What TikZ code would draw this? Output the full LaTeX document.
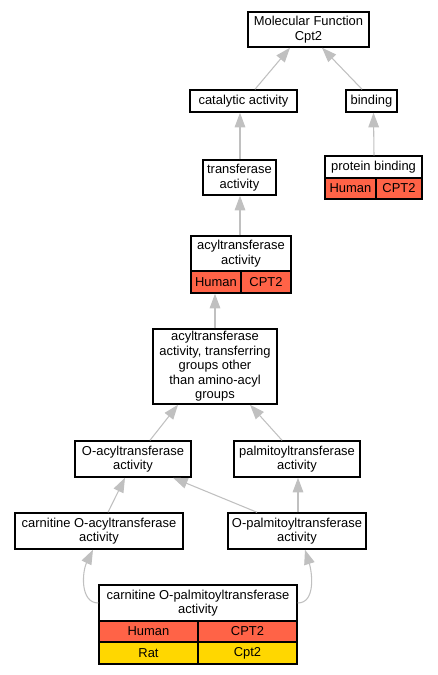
\documentclass[tikz,border=0pt]{standalone}
\usepackage{fontspec}
\setmainfont{Liberation Sans}
\usetikzlibrary{arrows.meta,calc}
\definecolor{tomatoc}{HTML}{FF6347}
\definecolor{goldc}{HTML}{FFD700}
\definecolor{edgec}{HTML}{C0C0C0}
\begin{document}
\begin{tikzpicture}[x=0.75pt,y=-0.75pt,
  box/.style={draw=black, line width=1.1pt, fill=white, inner sep=0pt, align=center,
    font=\fontsize{9.7}{10.9}\selectfont},
  sz/.style 2 args={minimum width=#1*0.75pt, minimum height=#2*0.75pt},
  human/.style={box, fill=tomatoc},
  rat/.style={box, fill=goldc},
  edge/.style={draw=edgec, line width=0.8pt, -{Triangle[length=11pt,width=8pt]}}]
\useasboundingbox (0,0) rectangle (437,675);

% nodes
\node[box, sz={121}{35}] (mf) at (308.5,29.5) {Molecular Function\\Cpt2};
\node[box, sz={107}{22}] (cat) at (243.5,101) {catalytic activity};
\node[box, sz={51}{22}] (bind) at (371.5,101) {binding};
\node[box, sz={97}{22}] (pb) at (373.5,167) {protein binding};
\node[human, sz={51}{21}] (pbH) at (350.5,188.5) {Human};
\node[human, sz={46}{21}] (pbG) at (399,188.5) {CPT2};
\node[box, sz={73}{35}] (tr) at (239.5,177.5) {transferase\\activity};
\node[box, sz={100}{35}] (acyl) at (241,253.5) {acyltransferase\\activity};
\node[human, sz={50}{22}] (acylH) at (216,282) {Human};
\node[human, sz={50}{22}] (acylG) at (266,282) {CPT2};
\node[box, sz={124}{75}] (trans) at (215,366.5) {acyltransferase\\activity, transferring\\groups other\\than amino-acyl\\groups};
\node[box, sz={116}{36}] (oacyl) at (133,459) {O-acyltransferase\\activity};
\node[box, sz={126}{36}] (palm) at (297,459) {palmitoyltransferase\\activity};
\node[box, sz={168}{36}] (coacyl) at (99,531) {carnitine O-acyltransferase\\activity};
\node[box, sz={138}{36}] (opalm) at (297,531) {O-palmitoyltransferase\\activity};
\node[box, sz={198}{36}] (cpt) at (198,603) {carnitine O-palmitoyltransferase\\activity};
\node[human, sz={99}{21}] (cptH) at (148.5,631.5) {Human};
\node[human, sz={99}{21}] (cptHG) at (247.5,631.5) {CPT2};
\node[rat, sz={99}{22}] (cptR) at (148.5,653) {Rat};
\node[rat, sz={99}{22}] (cptRG) at (247.5,653) {Cpt2};

% edges
\draw[edge] ($(cat.north)+(11.5,0)$) -- ($(mf.south)+(-18.5,0)$);
\draw[edge] ($(bind.north)+(-9.5,0)$) -- ($(mf.south)+(13.5,0)$);
\draw[edge] ($(pb.north)+(0.5,0)$) -- ($(bind.south)+(2,0)$);
\draw[edge] ($(tr.north)+(0.5,0)$) -- ($(cat.south)+(-3.5,0)$);
\draw[edge] ($(acyl.north)+(-1,0)$) -- ($(tr.south)+(0.5,0)$);
\draw[edge] (trans.north) -- ($(acylH.south)+(-1,0)$);
\draw[edge] ($(oacyl.north)+(17,0)$) -- ($(trans.south)+(-37,0)$);
\draw[edge] ($(palm.north)+(-15,0)$) -- ($(trans.south)+(35,0)$);
\draw[edge] ($(coacyl.north)+(9,0)$) -- ($(oacyl.south)+(-8,0)$);
\draw[edge] ($(opalm.north)+(-40,0)$) -- ($(oacyl.south)+(40,0)$);
\draw[edge] ($(opalm.north)+(1,0)$) -- ($(palm.south)+(1,0)$);
\draw[edge] (cpt.west) .. controls (80,603) and (82,572) .. ($(coacyl.south)+(-6,0)$);
\draw[edge] (cpt.east) .. controls (316,603) and (312,572) .. ($(opalm.south)+(8,0)$);
\end{tikzpicture}
\end{document}
